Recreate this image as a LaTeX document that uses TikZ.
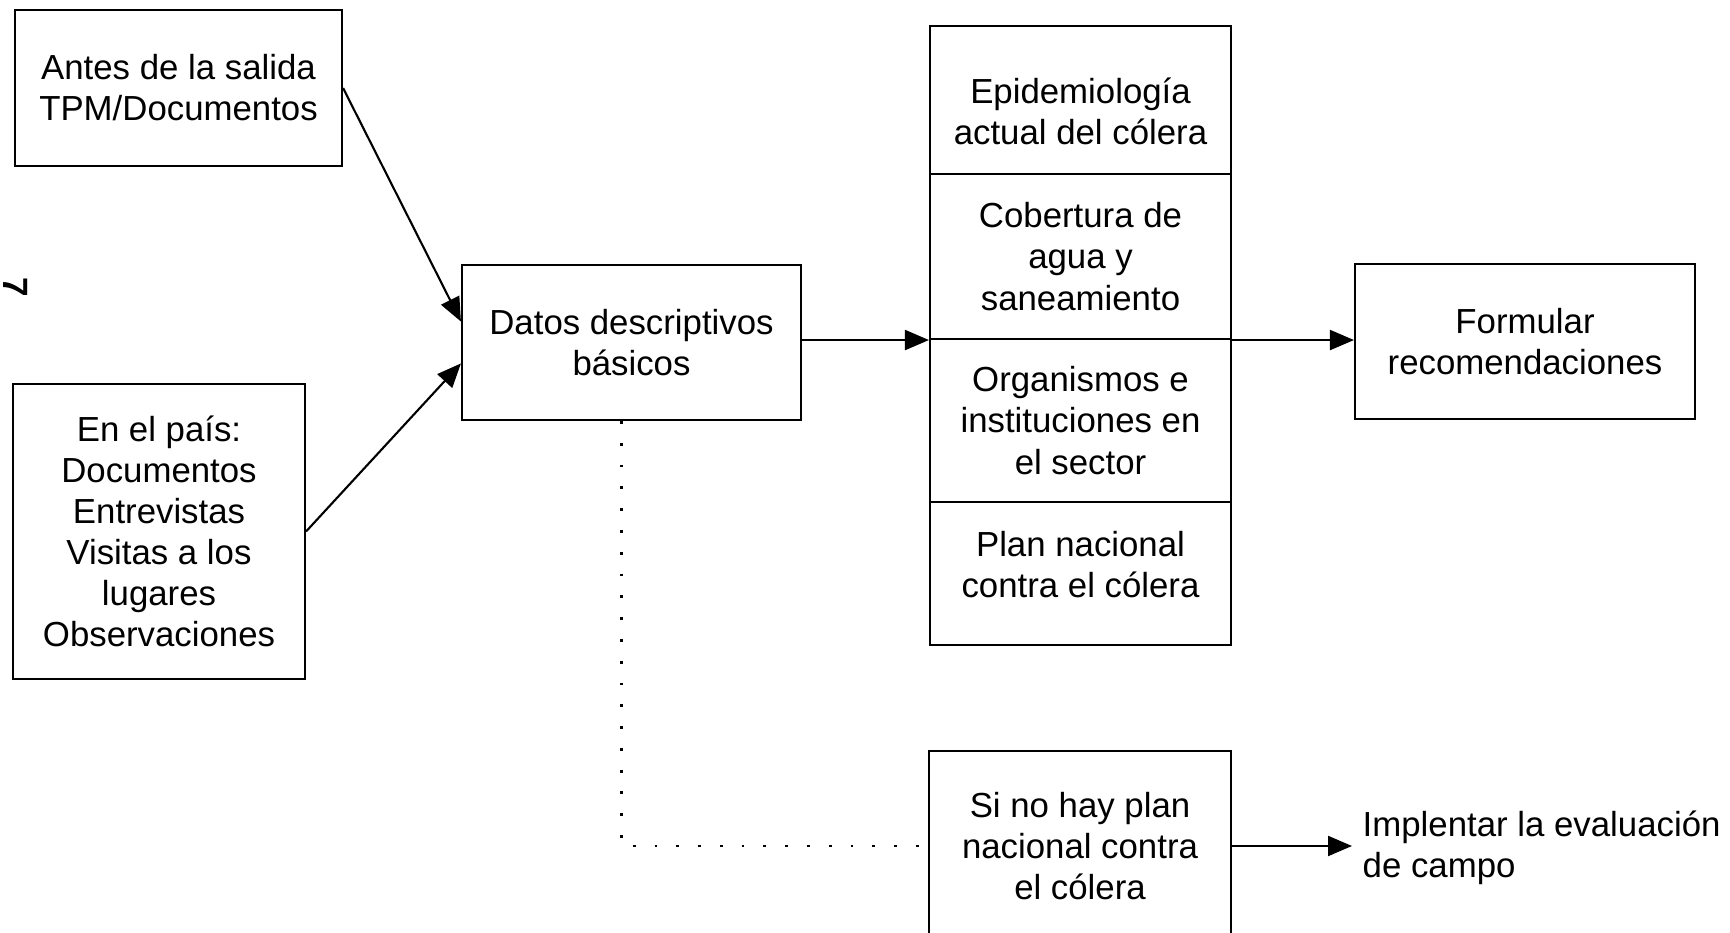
\documentclass[tikz,border=0pt]{standalone}
\usepackage{fontspec}
\setmainfont{Liberation Sans}
\usetikzlibrary{arrows.meta}

\begin{document}
\begin{tikzpicture}[
	box/.style={draw, line width=0.6pt, align=center, inner sep=0pt, font=\fontsize{9.9pt}{11.7pt}\selectfont},
	txt/.style={align=center, inner sep=0pt, font=\fontsize{9.9pt}{11.7pt}\selectfont},
	lbl/.style={align=left, inner sep=0.1cm, font=\fontsize{9.9pt}{11.7pt}\selectfont},
	arr/.style={line width=0.6pt, -{Triangle[length=0.24cm, width=0.2cm]}},
	dots/.style={line width=0.8pt, dash pattern=on 0.8pt off 5.4pt}
]
	\useasboundingbox (0,0) rectangle (17.30,9.33);
	% sources
	\node[box, minimum width=3.27cm, minimum height=1.56cm] (antes) at (1.785,8.45) {Antes de la salida\\TPM/Documentos};
	\node[box, minimum width=2.92cm, minimum height=2.95cm] (pais) at (1.59,4.015) {En el país:\\Documentos\\Entrevistas\\Visitas a los\\lugares\\Observaciones};
	\node[box, minimum width=3.39cm, minimum height=1.55cm] (datos) at (6.315,5.905) {Datos descriptivos\\básicos};
	% stacked topics
	\node[box, minimum width=3.01cm, minimum height=1.48cm,
		label={[txt, yshift=-0.11cm]center:{Epidemiología\\actual del cólera}}] (epid) at (10.805,8.33) {};
	\node[box, minimum width=3.01cm, minimum height=1.65cm] (cober) at (10.805,6.765) {Cobertura de\\agua y\\saneamiento};
	\node[box, minimum width=3.01cm, minimum height=1.63cm] (organ) at (10.805,5.125) {Organismos e\\instituciones en\\el sector};
	\node[box, minimum width=3.01cm, minimum height=1.43cm,
		label={[txt, yshift=0.09cm]center:{Plan nacional\\contra el cólera}}] (plan) at (10.805,3.595) {};
	\node[box, minimum width=3.40cm, minimum height=1.55cm] (formular) at (15.25,5.915) {Formular\\recomendaciones};
	\node[box, minimum width=3.02cm, minimum height=1.90cm] (sinoplan) at (10.80,0.87) {Si no hay plan\\nacional contra\\el cólera};
	\node[lbl, anchor=west] (implementar) at (13.52,0.85) {Implentar la evaluación\\de campo};
	\node[font=\fontsize{10pt}{12pt}\selectfont\bfseries, rotate=-90, inner sep=0pt] (pagenum) at (0.16,6.46) {7};
	% connectors
	\draw[arr] (antes.east) -- (datos.173);
	\draw[arr] (pais.east) -- (datos.187);
	\draw[arr] (datos.east |- cober.south west) -- (cober.south west);
	\draw[arr] (cober.south east) -- (formular.west |- cober.south east);
	\draw[dots] (datos.-97) |- (sinoplan.west);
	\draw[arr] (sinoplan.east) -- (implementar.west |- sinoplan.east);
\end{tikzpicture}
\end{document}
